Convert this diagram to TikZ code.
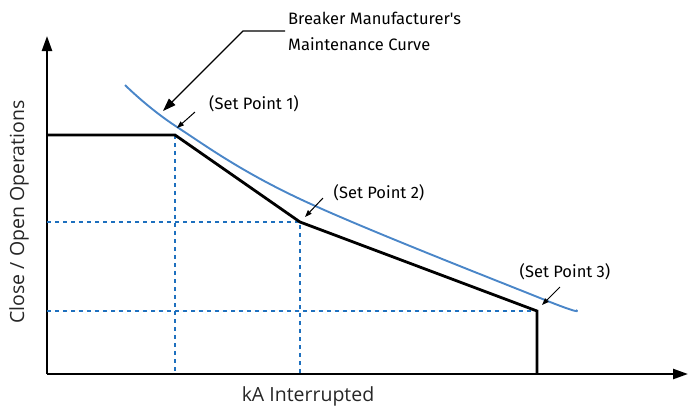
\documentclass[tikz,border=0pt]{standalone}
\usepackage{fontspec}
\setmainfont{Open Sans}
\newfontfamily\notefont{Fira Sans}
\usetikzlibrary{arrows.meta, positioning, calc}
\definecolor{curveblue}{RGB}{74,134,200}
\definecolor{gridblue}{RGB}{30,112,190}

\tikzset{
    axis/.style={line width=2.4pt, -{Triangle[length=15pt, width=10pt]}},
    limit/.style={line width=2.8pt, line join=miter},
    maint/.style={line width=1.9pt, curveblue},
    guide/.style={line width=1.4pt, gridblue, dash pattern=on 4pt off 4pt},
    note/.style={font=\notefont\fontsize{16.5}{26}\selectfont, text=black, inner sep=0pt},
    pointer/.style={line width=1pt, -{Triangle[length=7pt, width=5pt]}},
    axislabel/.style={font=\fontsize{19.5}{22}\selectfont, text=black!85, inner sep=0pt}
}

\begin{document}
\begin{tikzpicture}[x=1pt, y=-1pt]
    \useasboundingbox (0,0) rectangle (688,408);

    % Axes
    \coordinate (O) at (47,374);
    \coordinate (ytop) at (47,36);
    \coordinate (xend) at (688,374);
    \draw[axis] (O) -- (ytop);
    \draw[axis] (O) -- (xend);
    \node[axislabel] (xlab) at (308,396) {kA Interrupted};
    \node[axislabel, rotate=90] (ylab) at (19,212) {Close / Open Operations};

    % Set points
    \coordinate (p0) at (47,135);
    \coordinate (sp1) at (175,135);
    \coordinate (sp2) at (300,222);
    \coordinate (sp3) at (537,311);

    % Guide lines
    \draw[guide] (sp1) -- (sp1 |- O);
    \draw[guide] (O |- sp2) -- (sp2) -- (sp2 |- O);
    \draw[guide] (O |- sp3) -- (sp3);

    % Breaker limit
    \draw[limit] (p0) -- (sp1) -- (sp2) -- (sp3) -- (sp3 |- O);

    % Maintenance curve
    \draw[maint] plot[smooth, tension=0.6] coordinates
        {(125,85) (177,127) (300,199) (540,298) (576,310)};

    % Labels
    \node[note, anchor=west, align=left] (curvenote) at (288,31)
        {Breaker Manufacturer's\\Maintenance Curve};
    \coordinate (knee) at (243,31);
    \coordinate (oncurve) at (163,111);
    \draw[line width=1.2pt, -{Triangle[length=13pt, width=9pt]}]
        ([xshift=-3pt]curvenote.west) -- (knee) -- (oncurve);

    \node[note] (sp1lab) at (254,104) {(Set Point 1)};
    \node[note] (sp2lab) at (379,193) {(Set Point 2)};
    \node[note] (sp3lab) at (565,272) {(Set Point 3)};
    \coordinate (sp1from) at (195,112);
    \coordinate (sp1to) at (177,128);
    \coordinate (sp2from) at (323,198);
    \coordinate (sp2to) at (305,217);
    \coordinate (sp3from) at (560,287);
    \coordinate (sp3to) at (542,305);
    \draw[pointer] (sp1from) -- (sp1to);
    \draw[pointer] (sp2from) -- (sp2to);
    \draw[pointer] (sp3from) -- (sp3to);
\end{tikzpicture}
\end{document}
